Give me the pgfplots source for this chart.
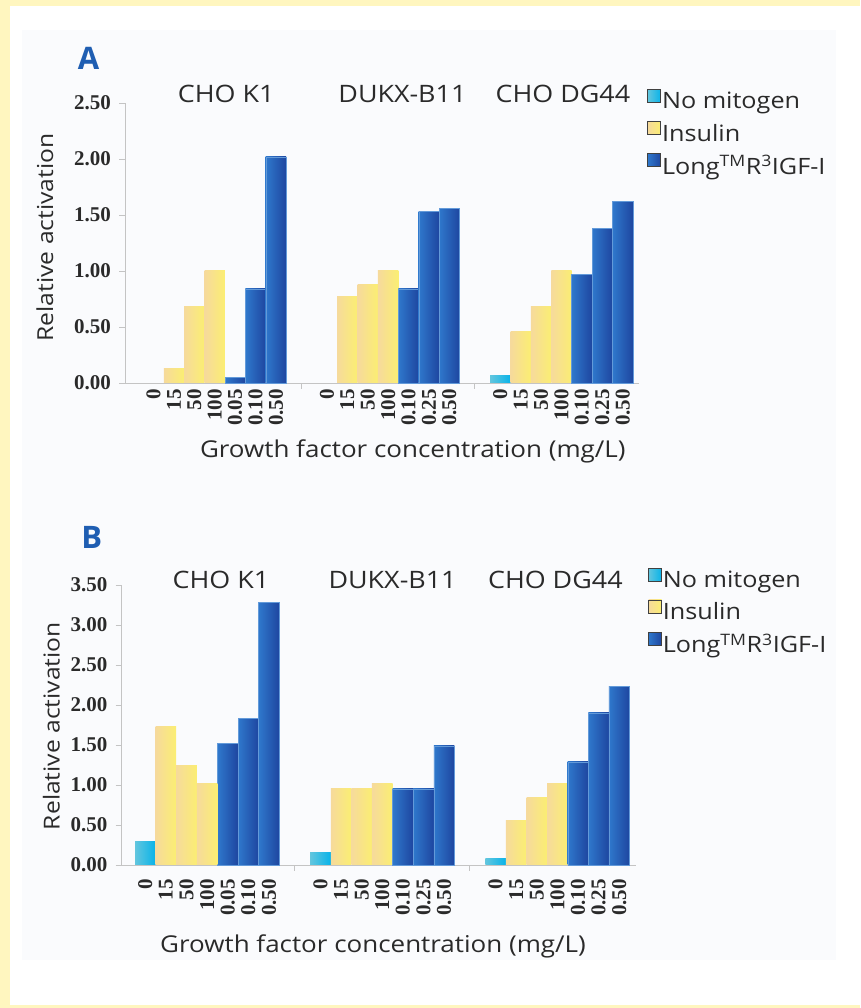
\documentclass[border=0pt]{standalone}
\usepackage{fontspec}
\usepackage{pgfplots}
\pgfplotsset{compat=1.18}
\setmainfont{Open Sans}[FakeStretch=1.12]
\newfontfamily\tickf{Liberation Serif}
\newfontfamily\letf{Open Sans}

\definecolor{bgyellow}{HTML}{FFF6BF}
\definecolor{panel}{HTML}{FAFBFD}
\definecolor{axgray}{HTML}{C4C4C4}
\definecolor{txt}{HTML}{2A2A2A}
\definecolor{cyanL}{HTML}{62C6DE}
\definecolor{cyanR}{HTML}{08B3E9}
\definecolor{yelL}{HTML}{F6DA9C}
\definecolor{yelR}{HTML}{FBEE72}
\definecolor{bluL}{HTML}{2F78CC}
\definecolor{bluR}{HTML}{1E46A0}
\definecolor{letter}{HTML}{1F5EB2}

\newcommand\tickfont{\tickf\bfseries\fontsize{21}{22}\selectfont}
\newcommand\titlefont{\fontsize{24}{27}\selectfont}
\newcommand\legfont{\fontsize{22.5}{26}\selectfont}
\newcommand\xlabfont{\fontsize{23.2}{26}\selectfont}
\newcommand\ylabfont{\fontsize{22}{26}\selectfont}
\newcommand\letfont{\letf\bfseries\fontsize{31}{34}\selectfont}

\pgfplotsset{
  chostyle/.style={
    scale only axis, width=514pt, height=280pt,
    axis x line*=bottom, axis y line*=left,
    axis line style={draw=axgray, line width=0.9pt},
    ymin=0, clip=false,
    xtick={0,1,2,3,4,5,6,8.5,9.5,10.5,11.5,12.5,13.5,14.5,17,18,19,20,21,22,23},
    xticklabels={0,15,50,100,0.05,0.10,0.50,0,15,50,100,0.10,0.25,0.50,0,15,50,100,0.10,0.25,0.50},
    xticklabel style={rotate=90, anchor=east, font=\tickfont, text=txt, inner sep=0pt},
    yticklabel style={font=\tickfont, text=txt, inner sep=0pt, xshift=-8pt},
    xtick style={draw=none},
    ytick style={draw=axgray, line width=0.9pt},
    tick align=outside, major tick length=6pt,
    extra x ticks={7.25,15.75}, extra x tick labels={},
    extra x tick style={xtick style={draw=axgray, line width=0.9pt}, xticklabel style={opacity=0}},
    ylabel={Relative activation},
    xlabel={Growth factor concentration (mg/L)},
    ylabel style={font=\ylabfont, text=txt},
    xlabel style={font=\xlabfont, text=txt},
    legend cell align=left,
    legend image code/.code={\draw[#1, draw=black!75, line width=0.6pt] (0pt,-1pt) rectangle (13pt,12pt);},
    legend style={draw=none, fill=none, font=\legfont, text=txt, inner sep=0pt, row sep=9.5pt,
      anchor=north west, nodes={inner sep=1pt},
      /tikz/every even column/.append style={column sep=9pt}},
  },
  mybar/.style={ybar, bar width=1, bar shift=0pt},
  cyanbar/.style={mybar, draw=none, left color=cyanL, right color=cyanR},
  yelbar/.style={mybar, draw=none, left color=yelL, right color=yelR},
  blubar/.style={mybar, draw=bluL!75!white, line width=0.4pt, left color=bluL, right color=bluR},
}

\begin{document}
\begin{tikzpicture}
\useasboundingbox (0,0) rectangle (860pt,1008pt);
\fill[bgyellow] (0,0) rectangle (860pt,1008pt);
\fill[white] (10pt,3pt) rectangle (860pt,1002pt);
\fill[panel] (22pt,48pt) rectangle (836pt,978pt);
\node[font=\letfont, text=letter] at (88.5pt,950pt) {A};
\node[font=\letfont, text=letter] at (91.7pt,471pt) {B};

% ---------------- Panel A ----------------
\begin{axis}[chostyle,
  at={(125pt,625pt)}, anchor=south west,
  xmin=-1.4, xmax=23.8, ymax=2.5,
  ytick={0,0.5,1,1.5,2,2.5},
  yticklabels={0.00,0.50,1.00,1.50,2.00,2.50},
  ylabel style={at={(axis description cs:-0.156,0.52)}, anchor=center},
  xlabel style={at={(axis description cs:0.560,-0.246)}, anchor=center},
  legend style={at={(axis description cs:1.016,1.05)}},
]
% legend-bearing first bars
\addplot[cyanbar] coordinates {(17,0.07)};
\addplot[yelbar] coordinates {(1,0.13)};
\addplot[blubar] coordinates {(4,0.05)};
% remaining bars
\addplot[yelbar, forget plot] coordinates {(2,0.68)};
\addplot[yelbar, forget plot] coordinates {(3,1.00)};
\addplot[yelbar, forget plot] coordinates {(9.5,0.77)};
\addplot[yelbar, forget plot] coordinates {(10.5,0.88)};
\addplot[yelbar, forget plot] coordinates {(11.5,1.00)};
\addplot[yelbar, forget plot] coordinates {(18,0.46)};
\addplot[yelbar, forget plot] coordinates {(19,0.68)};
\addplot[yelbar, forget plot] coordinates {(20,1.00)};
\addplot[blubar, forget plot] coordinates {(5,0.84)};
\addplot[blubar, forget plot] coordinates {(6,2.02)};
\addplot[blubar, forget plot] coordinates {(12.5,0.84)};
\addplot[blubar, forget plot] coordinates {(13.5,1.53)};
\addplot[blubar, forget plot] coordinates {(14.5,1.56)};
\addplot[blubar, forget plot] coordinates {(21,0.97)};
\addplot[blubar, forget plot] coordinates {(22,1.38)};
\addplot[blubar, forget plot] coordinates {(23,1.62)};
\legend{No mitogen,Insulin,Long\textsuperscript{TM}R\textsuperscript{3}IGF-I}
\node[font=\titlefont, text=txt, anchor=base] at (axis cs:3.56,2.5) {CHO K1};
\node[font=\titlefont, text=txt, anchor=base] at (axis cs:12.2,2.5) {DUKX-B11};
\node[font=\titlefont, text=txt, anchor=base] at (axis cs:20.07,2.5) {CHO DG44};
\end{axis}

% ---------------- Panel B ----------------
\begin{axis}[chostyle,
  at={(121.7pt,143pt)}, anchor=south west,
  xmin=-1.146, xmax=23.8, ymax=3.5,
  ytick={0,0.5,1,1.5,2,2.5,3,3.5},
  yticklabels={0.00,0.50,1.00,1.50,2.00,2.50,3.00,3.50},
  xticklabel style={xshift=-8pt},
  ylabel style={at={(axis description cs:-0.137,0.496)}, anchor=center},
  xlabel style={at={(axis description cs:0.489,-0.292)}, anchor=center},
  legend style={at={(axis description cs:1.024,1.062)}},
]
\addplot[cyanbar] coordinates {(0,0.29)};
\addplot[yelbar] coordinates {(1,1.73)};
\addplot[blubar] coordinates {(4,1.52)};
\addplot[cyanbar, forget plot] coordinates {(8.5,0.15)};
\addplot[cyanbar, forget plot] coordinates {(17,0.08)};
\addplot[yelbar, forget plot] coordinates {(2,1.24)};
\addplot[yelbar, forget plot] coordinates {(3,1.02)};
\addplot[yelbar, forget plot] coordinates {(9.5,0.96)};
\addplot[yelbar, forget plot] coordinates {(10.5,0.95)};
\addplot[yelbar, forget plot] coordinates {(11.5,1.02)};
\addplot[yelbar, forget plot] coordinates {(18,0.55)};
\addplot[yelbar, forget plot] coordinates {(19,0.84)};
\addplot[yelbar, forget plot] coordinates {(20,1.02)};
\addplot[blubar, forget plot] coordinates {(5,1.83)};
\addplot[blubar, forget plot] coordinates {(6,3.28)};
\addplot[blubar, forget plot] coordinates {(12.5,0.95)};
\addplot[blubar, forget plot] coordinates {(13.5,0.95)};
\addplot[blubar, forget plot] coordinates {(14.5,1.49)};
\addplot[blubar, forget plot] coordinates {(21,1.29)};
\addplot[blubar, forget plot] coordinates {(22,1.90)};
\addplot[blubar, forget plot] coordinates {(23,2.23)};
\legend{No mitogen,Insulin,Long\textsuperscript{TM}R\textsuperscript{3}IGF-I}
\node[font=\titlefont, text=txt, anchor=base] at (axis cs:3.67,3.45) {CHO K1};
\node[font=\titlefont, text=txt, anchor=base] at (axis cs:12.0,3.45) {DUKX-B11};
\node[font=\titlefont, text=txt, anchor=base] at (axis cs:19.9,3.45) {CHO DG44};
\end{axis}
\end{tikzpicture}
\end{document}
